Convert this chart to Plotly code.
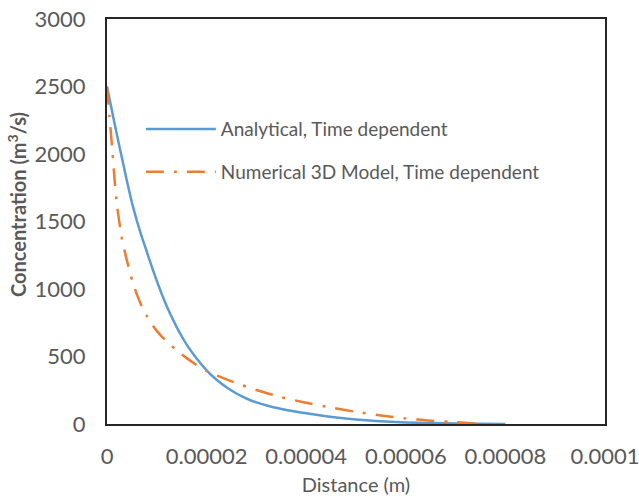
import plotly.graph_objects as go

# Distance (in micrometres, converted to metres below) and concentration values
analytical_x_um = [0, 1, 2, 3, 4, 5, 6, 7, 8, 9, 10, 11, 12, 13, 14, 15, 16, 18, 20,
                   22, 24, 26, 28, 30, 33, 36, 40, 44, 48, 52, 56, 60, 65, 70, 75, 80]
analytical_c = [2500, 2320, 2140, 1970, 1800, 1640, 1505, 1385, 1275, 1165, 1060, 962,
                872, 792, 718, 650, 588, 485, 398, 328, 272, 226, 189, 160, 128, 104,
                80, 58, 40, 27, 18, 12, 7, 4, 2, 0]

numerical_x_um = [0, 0.5, 1, 1.5, 2, 3, 4, 5, 6, 7, 8, 9, 10, 11, 12, 14, 16, 18, 20,
                  23, 26, 30, 35, 40, 45, 50, 55, 60, 65, 70, 75.5]
numerical_c = [2500, 2280, 2060, 1820, 1620, 1370, 1210, 1070, 960, 870, 800, 740, 690,
               648, 612, 545, 488, 437, 393, 345, 302, 252, 198, 157, 122, 90, 63, 41,
               25, 13, 0]

series_names = ["Analytical, Time dependent", "Numerical 3D Model, Time dependent"]

x_tick_vals = [0, 0.00002, 0.00004, 0.00006, 0.00008, 0.0001]
x_tick_text = ["0", "0.00002", "0.00004", "0.00006", "0.00008", "0.0001"]
y_tick_vals = [0, 500, 1000, 1500, 2000, 2500, 3000]

FONT = "Lato"
TEXT_COLOR = "#595959"

fig = go.Figure()
fig.add_trace(go.Scatter(
    x=[v * 1e-6 for v in analytical_x_um], y=analytical_c,
    mode="lines", name=series_names[0], legendgroup="a",
    line=dict(color="#5B9BD5", width=2.5, shape="spline", smoothing=0.4),
))
fig.add_trace(go.Scatter(
    x=[v * 1e-6 for v in numerical_x_um], y=numerical_c,
    mode="lines", name=series_names[1], legendgroup="b",
    line=dict(color="#ED7D31", width=2.5, dash="18px,10px,3px,10px",
              shape="spline", smoothing=0.4),
))

axis_common = dict(
    showline=True, linecolor="#262626", linewidth=2, mirror=True,
    showgrid=False, zeroline=False, automargin=False,
    ticks="outside", tickcolor="rgba(0,0,0,0)", ticklabeloverflow="allow",
    tickfont=dict(family=FONT, size=22, color=TEXT_COLOR),
)

fig.update_layout(
    width=639, height=502,
    margin=dict(l=107, r=34, t=19, b=78),
    paper_bgcolor="white", plot_bgcolor="white",
    font=dict(family=FONT, color=TEXT_COLOR),
    xaxis=dict(
        range=[0, 0.0001], tickvals=x_tick_vals, ticktext=x_tick_text, ticklen=12,
        title=dict(text="Distance (m)", font=dict(family=FONT, size=20, color=TEXT_COLOR),
                   standoff=10),
        **axis_common,
    ),
    yaxis=dict(
        range=[0, 3000], tickvals=y_tick_vals, ticklen=15,
        **axis_common,
    ),
    legend=dict(
        x=0.068, y=0.775, xanchor="left", yanchor="top",
        bgcolor="rgba(0,0,0,0)", itemwidth=70,
        font=dict(family=FONT, size=19, color=TEXT_COLOR),
        traceorder="grouped", tracegroupgap=15,
    ),
    showlegend=True,
    annotations=[dict(
        text="<b>Concentration (m<sup>3</sup>/s)</b>",
        xref="paper", yref="paper", x=-0.181, y=0.543,
        xanchor="center", yanchor="middle", textangle=-90, showarrow=False,
        font=dict(family=FONT, size=20, color=TEXT_COLOR),
    )],
)

fig.write_html("out.html")
